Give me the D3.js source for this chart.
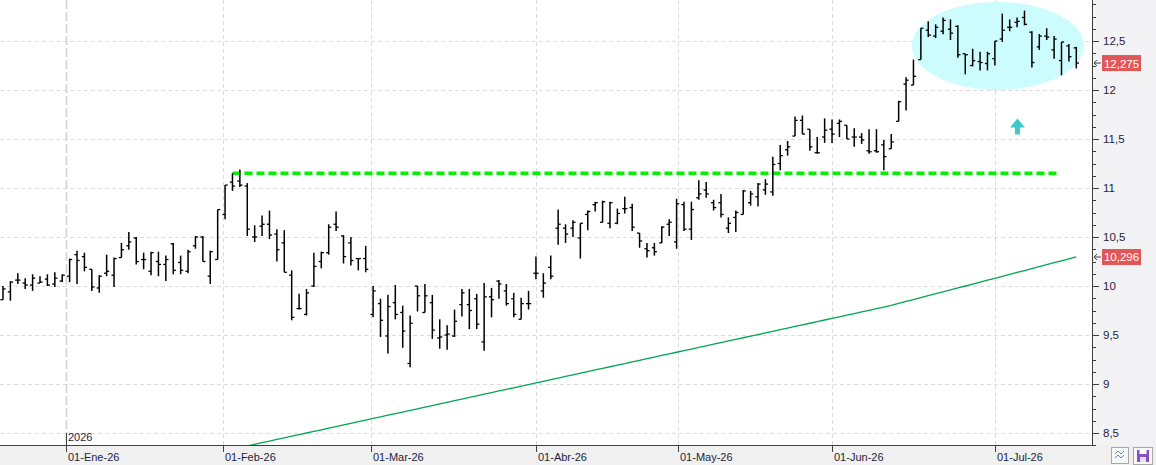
<!DOCTYPE html>
<html>
<head>
<meta charset="utf-8">
<script src="https://cdn.jsdelivr.net/npm/d3@7"></script>
<style>
  html, body { margin: 0; padding: 0; background: #fff; }
  svg { display: block; }
  text { font-family: "Liberation Sans", Arial, sans-serif; }
</style>
</head>
<body>
<div id="chart"></div>
<script>
// ---------- DATA ----------
const firstDate = "2025-12-17";
const lastDate = "2026-07-16";
const holidays = ["2025-12-25", "2025-12-26", "2026-01-01", "2026-04-03", "2026-04-06", "2026-05-01"];

const opens = [9.86,9.94,10.06,10.03,10.01,10.03,10.07,10.02,10.05,10.10,10.32,10.30,10.17,9.98,10.13,10.11,10.29,10.41,10.49,10.27,10.15,10.25,10.22,10.43,10.24,10.15,10.41,10.50,10.10,10.27,
10.73,11.06,11.07,11.02,10.50,10.61,10.63,10.53,10.44,10.11,9.77,9.71,10.00,10.25,10.34,10.63,10.51,10.44,10.28,10.28,
9.71,9.82,9.49,9.83,9.73,9.21,10.00,9.73,9.83,9.47,9.50,9.49,9.81,9.81,9.87,9.43,9.89,10.05,9.95,9.87,9.66,9.82,
10.13,9.95,10.19,10.59,10.59,10.59,10.49,10.73,10.83,10.65,10.64,10.64,10.79,10.80,10.54,10.38,10.39,10.44,10.63,10.45,
10.83,10.58,10.90,10.98,10.85,10.85,10.59,10.70,10.73,10.85,10.91,10.98,10.96,11.25,11.39,11.53,11.69,11.60,11.36,11.52,
11.60,11.66,11.64,11.52,11.52,11.38,11.38,11.44,11.40,11.68,12.06,12.05,12.31,12.61,12.55,12.60,12.62,12.65,12.37,12.25,12.29,12.27,
12.32,12.52,12.64,12.69,12.74,12.59,12.44,12.55,12.41,12.30,12.45,12.43];
const highs = [10.00,10.05,10.13,10.08,10.12,10.10,10.12,10.14,10.12,10.28,10.36,10.34,10.17,10.11,10.32,10.29,10.44,10.55,10.50,10.34,10.35,10.35,10.31,10.44,10.31,10.37,10.51,10.51,10.36,10.78,
11.03,11.15,11.19,11.05,10.62,10.72,10.77,10.58,10.57,10.16,9.92,9.97,10.34,10.35,10.63,10.76,10.52,10.50,10.28,10.41,
10.00,9.87,9.91,10.01,9.80,9.70,10.00,10.02,9.91,9.66,9.60,9.76,9.97,9.97,9.92,10.03,9.98,10.06,10.02,9.93,9.88,9.95,
10.30,10.13,10.31,10.78,10.63,10.67,10.64,10.77,10.86,10.87,10.86,10.79,10.91,10.84,10.54,10.44,10.44,10.61,10.68,10.89,
10.86,10.86,11.08,11.06,10.88,10.94,10.70,10.77,10.98,10.97,11.05,11.09,11.32,11.44,11.48,11.73,11.74,11.60,11.52,11.71,
11.70,11.70,11.64,11.61,11.56,11.60,11.60,11.49,11.55,11.89,12.13,12.31,12.63,12.70,12.67,12.74,12.72,12.66,12.37,12.42,12.39,12.39,
12.50,12.78,12.72,12.74,12.81,12.60,12.57,12.63,12.55,12.49,12.47,12.44];
const lows = [9.86,9.85,10.02,9.97,9.95,10.03,10.00,9.99,10.04,10.04,10.02,10.15,9.95,9.93,10.10,9.99,10.29,10.37,10.22,10.17,10.11,10.10,10.05,10.12,10.12,10.13,10.38,10.25,10.02,10.27,
10.68,10.97,11.01,10.51,10.45,10.51,10.48,10.25,10.14,9.65,9.76,9.70,9.99,10.18,10.32,10.56,10.23,10.21,10.16,10.14,
9.68,9.48,9.31,9.66,9.37,9.17,9.74,9.73,9.46,9.36,9.35,9.48,9.69,9.56,9.56,9.34,9.68,9.87,9.80,9.68,9.66,9.76,
10.07,9.88,10.07,10.42,10.44,10.50,10.28,10.57,10.76,10.65,10.59,10.63,10.74,10.56,10.39,10.29,10.31,10.44,10.51,10.38,
10.56,10.47,10.88,10.90,10.77,10.70,10.54,10.55,10.73,10.82,10.81,10.93,10.92,11.18,11.33,11.53,11.55,11.38,11.35,11.46,
11.46,11.52,11.50,11.42,11.45,11.35,11.36,11.18,11.40,11.68,11.79,12.05,12.31,12.54,12.53,12.57,12.51,12.33,12.16,12.24,12.20,12.20,
12.25,12.49,12.60,12.64,12.66,12.23,12.41,12.51,12.32,12.15,12.29,12.22];
const closes = [9.97,10.04,10.06,10.01,10.08,10.04,10.01,10.08,10.11,10.27,10.26,10.19,9.99,10.10,10.15,10.28,10.37,10.45,10.25,10.27,10.34,10.22,10.27,10.16,10.16,10.35,10.50,10.25,10.35,10.78,
11.03,11.02,11.03,10.58,10.50,10.63,10.52,10.37,10.14,9.68,9.77,9.93,10.20,10.34,10.60,10.60,10.30,10.26,10.28,10.17,
9.95,9.65,9.79,9.71,9.54,9.62,9.90,9.90,9.55,9.48,9.51,9.64,9.93,9.75,9.61,9.89,9.86,10.02,9.82,9.71,9.82,9.82,
10.13,10.03,10.10,10.63,10.53,10.65,10.64,10.76,10.85,10.86,10.85,10.74,10.79,10.60,10.46,10.36,10.35,10.60,10.65,10.84,
10.58,10.78,10.94,10.94,10.80,10.73,10.64,10.75,10.97,10.94,11.04,11.04,11.24,11.33,11.42,11.69,11.55,11.42,11.36,11.59,
11.55,11.68,11.50,11.52,11.49,11.37,11.37,11.32,11.47,11.88,12.10,12.14,12.63,12.56,12.64,12.71,12.58,12.36,12.36,12.30,12.28,12.37,
12.50,12.61,12.64,12.70,12.67,12.28,12.55,12.54,12.52,12.49,12.34,12.275];

// moving average (green line), starting at bar index maStart
const maStart = 32;
const maValues = [8.352,8.368,8.385,8.401,8.418,8.434,8.451,8.467,8.484,8.500,8.517,8.533,8.550,8.566,8.583,8.599,8.616,8.632,8.649,
8.665,8.682,8.698,8.714,8.731,8.747,8.764,8.780,8.797,8.813,8.830,8.846,8.863,8.879,8.896,8.912,8.929,8.945,8.961,8.978,8.994,
9.011,9.027,9.044,9.060,9.077,9.093,9.110,9.126,9.143,9.159,9.176,9.192,9.209,9.225,9.241,9.258,9.274,9.291,9.307,9.324,
9.340,9.357,9.373,9.390,9.406,9.423,9.439,9.456,9.472,9.488,9.505,9.521,9.538,9.554,9.571,9.587,9.604,9.620,9.637,9.653,
9.670,9.686,9.703,9.719,9.736,9.752,9.769,9.785,9.802,
9.822,9.842,9.861,9.881,9.901,9.921,9.941,9.960,9.980,10.000,10.020,10.040,
10.059,10.079,10.099,10.119,10.139,10.158,10.178,10.198,10.218,10.238,10.257,10.277,10.296];

const monthTickDates = ["2026-01-01","2026-02-01","2026-03-01","2026-04-01","2026-05-01","2026-06-01","2026-07-01"];
const monthTickLabels = ["01-Ene-26","01-Feb-26","01-Mar-26","01-Abr-26","01-May-26","01-Jun-26","01-Jul-26"];
const yearLabel = "2026";
const yTickValues = [8.5, 9, 9.5, 10, 10.5, 11, 11.5, 12, 12.5];
const resistanceLevel = 11.15;
const resistanceRange = [31, 142.5];   // bar indices

// ---------- LAYOUT ----------
const W = 1156, H = 465;
const plotRight = 1092, plotBottom = 445;

const parse = d3.utcParse("%Y-%m-%d");
const hol = new Set(holidays);
const dates = [];
for (let d = parse(firstDate); d <= parse(lastDate); d = d3.utcDay.offset(d, 1)) {
  const dow = d.getUTCDay();
  if (dow === 0 || dow === 6) continue;
  if (hol.has(d3.utcFormat("%Y-%m-%d")(d))) continue;
  dates.push(d);
}
const n = closes.length;
const xi = d3.scaleLinear().domain([0, n - 1]).range([3, 1076.3]);
const xt = d3.scaleUtc().domain(dates.slice(0, n)).range(d3.range(n).map(i => xi(i)));
const y = d3.scaleLinear().domain([8.5, 12.5]).range([433, 41]);

const svg = d3.select("#chart").append("svg").attr("width", W).attr("height", H);

// backgrounds
svg.append("rect").attr("x", 0).attr("y", 0).attr("width", W).attr("height", H).attr("fill", "#ffffff");
svg.append("rect").attr("x", plotRight).attr("y", 0).attr("width", W - plotRight).attr("height", H).attr("fill", "#f3f3f5");
svg.append("rect").attr("x", 0).attr("y", plotBottom).attr("width", W).attr("height", H - plotBottom).attr("fill", "#f0f0f0");

const plot = svg.append("g");
plot.append("clipPath").attr("id", "clip").append("rect")
  .attr("x", 0).attr("y", 0).attr("width", plotRight).attr("height", plotBottom);

// horizontal grid
plot.append("g").selectAll("line").data(yTickValues).join("line")
  .attr("x1", 0).attr("x2", plotRight)
  .attr("y1", d => Math.round(y(d)) + 0.5).attr("y2", d => Math.round(y(d)) + 0.5)
  .attr("stroke", "#dcdcdc").attr("stroke-dasharray", "4,3");

// vertical month grid
const tickDates = monthTickDates.map(parse);
plot.append("g").selectAll("line").data(tickDates).join("line")
  .attr("x1", d => Math.round(xt(d)) + 0.5).attr("x2", d => Math.round(xt(d)) + 0.5)
  .attr("y1", 0).attr("y2", plotBottom)
  .attr("stroke", (d, i) => i === 0 ? "#d2d2d2" : "#dcdcdc")
  .attr("stroke-width", (d, i) => i === 0 ? 1.6 : 1)
  .attr("stroke-dasharray", (d, i) => i === 0 ? "9,3" : "4,3");

// highlight ellipse
plot.append("ellipse")
  .attr("cx", xi(134.4)).attr("cy", y(12.45)).attr("rx", 86).attr("ry", 44)
  .attr("fill", "#ccfcfd");

// moving average
const maLine = d3.line().x((d, i) => xi(maStart + i)).y(d => y(d));
plot.append("path").datum(maValues)
  .attr("clip-path", "url(#clip)")
  .attr("d", maLine).attr("fill", "none").attr("stroke", "#00a651").attr("stroke-width", 1.3);

// resistance dashed line
plot.append("line")
  .attr("x1", xi(resistanceRange[0])).attr("x2", xi(resistanceRange[1]))
  .attr("y1", y(resistanceLevel)).attr("y2", y(resistanceLevel))
  .attr("stroke", "#00f000").attr("stroke-width", 3.5).attr("stroke-dasharray", "8,4");

// OHLC bars
const bars = plot.append("g").attr("stroke", "#000");
const idx = d3.range(n);
bars.selectAll("line.hl").data(idx).join("line").attr("class", "hl")
  .attr("x1", i => xi(i)).attr("x2", i => xi(i))
  .attr("y1", i => y(highs[i])).attr("y2", i => y(lows[i]))
  .attr("stroke-width", 1.5);
bars.selectAll("line.op").data(idx).join("line").attr("class", "op")
  .attr("x1", i => xi(i) - 2.6).attr("x2", i => xi(i))
  .attr("y1", i => y(opens[i])).attr("y2", i => y(opens[i]))
  .attr("stroke-width", 1.3);
bars.selectAll("line.cl").data(idx).join("line").attr("class", "cl")
  .attr("x1", i => xi(i)).attr("x2", i => xi(i) + 2.6)
  .attr("y1", i => y(closes[i])).attr("y2", i => y(closes[i]))
  .attr("stroke-width", 1.3);

// up arrow annotation
const ax = xi(137.05), ay = y(11.71);
plot.append("path")
  .attr("d", `M${ax},${ay} L${ax + 7.5},${ay + 9} L${ax + 2.5},${ay + 9} L${ax + 2.5},${ay + 16} L${ax - 2.5},${ay + 16} L${ax - 2.5},${ay + 9} L${ax - 7.5},${ay + 9} Z`)
  .attr("fill", "#3cc8c8");

// ---------- AXES ----------
// right axis
const ra = svg.append("g");
ra.append("line").attr("x1", plotRight + 0.5).attr("x2", plotRight + 0.5).attr("y1", 0).attr("y2", plotBottom)
  .attr("stroke", "#404040");
const minor = d3.range(8.375, 12.95, 0.125);
ra.selectAll("line.mn").data(minor).join("line").attr("class", "mn")
  .attr("x1", plotRight).attr("x2", d => (Math.abs(d * 2 - Math.round(d * 2)) < 1e-6) ? plotRight + 7 : plotRight + 4)
  .attr("y1", d => Math.round(y(d)) + 0.5).attr("y2", d => Math.round(y(d)) + 0.5)
  .attr("stroke", "#404040");
ra.selectAll("text").data(yTickValues).join("text")
  .attr("x", plotRight + 11).attr("y", d => y(d) + 4)
  .attr("font-size", 11.5).attr("fill", "#1e1e3c")
  .text(d => String(d).replace(".", ","));

// value flags
function flag(v) {
  const yy = y(v);
  ra.append("path")
    .attr("d", `M${plotRight + 9},${yy} L${plotRight + 2},${yy} M${plotRight + 5},${yy - 3} L${plotRight + 2},${yy} L${plotRight + 5},${yy + 3}`)
    .attr("fill", "none").attr("stroke", "#444").attr("stroke-width", 1);
  ra.append("rect").attr("x", plotRight + 10).attr("y", yy - 8).attr("width", 39).attr("height", 16)
    .attr("fill", "#e15656");
  ra.append("text").attr("x", plotRight + 29.5).attr("y", yy + 4.5).attr("text-anchor", "middle")
    .attr("font-size", 11.5).attr("fill", "#ffffff")
    .text(d3.format(".3f")(v).replace(".", ","));
}
flag(closes[n - 1]);
flag(maValues[maValues.length - 1]);

// bottom axis
const ba = svg.append("g");
ba.append("line").attr("x1", 0).attr("x2", plotRight + 1).attr("y1", plotBottom + 0.5).attr("y2", plotBottom + 0.5)
  .attr("stroke", "#404040");
ba.selectAll("line.t").data(tickDates).join("line").attr("class", "t")
  .attr("x1", d => Math.round(xt(d)) + 0.5).attr("x2", d => Math.round(xt(d)) + 0.5)
  .attr("y1", plotBottom).attr("y2", plotBottom + 7)
  .attr("stroke", "#404040");
ba.selectAll("text").data(tickDates).join("text")
  .attr("x", d => Math.round(xt(d)) + 2).attr("y", plotBottom + 16)
  .attr("font-size", 11).attr("fill", "#1e1e3c")
  .text((d, i) => monthTickLabels[i]);

// year marker
const yx = Math.round(xt(tickDates[0])) + 0.5;
svg.append("line").attr("x1", yx).attr("x2", yx).attr("y1", plotBottom - 12).attr("y2", plotBottom)
  .attr("stroke", "#404040");
svg.append("text").attr("x", yx + 1.5).attr("y", plotBottom - 4)
  .attr("font-size", 11).attr("fill", "#1e1e3c").text(yearLabel);

// bottom-right buttons
const b1 = svg.append("g").attr("transform", "translate(1111,447)");
b1.append("rect").attr("x", 0.5).attr("y", 0.5).attr("width", 17).attr("height", 16).attr("fill", "#f8f8f8").attr("stroke", "#a8a8a8");
b1.append("path").attr("d", "M4,7 L7,4 L10,7 L13,4 M4,11 L7,8 L10,11 L13,8").attr("fill", "none").attr("stroke", "#4a90d0").attr("stroke-width", 1);
const b2 = svg.append("g").attr("transform", "translate(1133,447)");
b2.append("rect").attr("x", 0.5).attr("y", 0.5).attr("width", 19).attr("height", 17).attr("fill", "#f8f8f8").attr("stroke", "#a8a8a8");
b2.append("rect").attr("x", 4).attr("y", 3).attr("width", 12).attr("height", 12).attr("fill", "#8a4fc8");
b2.append("rect").attr("x", 6.5).attr("y", 3).attr("width", 7).attr("height", 4).attr("fill", "#ffffff");
b2.append("rect").attr("x", 7).attr("y", 10).attr("width", 6).attr("height", 5).attr("fill", "#e8e0f4");
</script>
</body>
</html>
